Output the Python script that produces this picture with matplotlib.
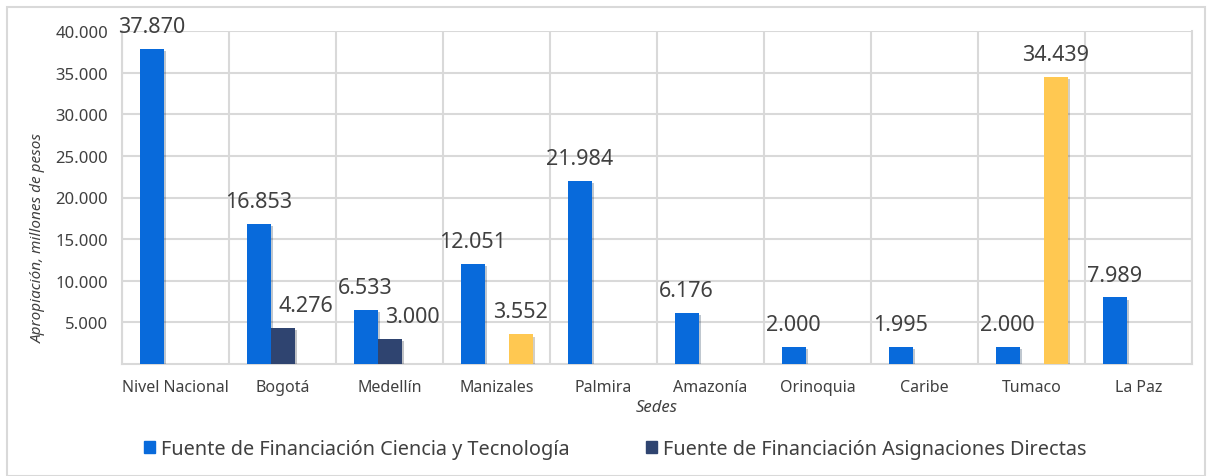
import matplotlib
matplotlib.use("Agg")
import matplotlib.pyplot as plt
import matplotlib.patheffects as pe
from matplotlib.patches import Rectangle
import numpy as np

sedes = ["Nivel Nacional", "Bogotá", "Medellín", "Manizales", "Palmira",
         "Amazonía", "Orinoquia", "Caribe", "Tumaco", "La Paz"]
ciencia_tecnologia = [37870, 16853, 6533, 12051, 21984, 6176, 2000, 1995, 2000, 7989]
asignaciones_directas = [0, 4276, 3000, 0, 0, 0, 0, 0, 0, 0]
otra_fuente = [0, 0, 0, 3552, 0, 0, 0, 0, 34439, 0]
yticks = [5000, 10000, 15000, 20000, 25000, 30000, 35000, 40000]

series = [
    ("Fuente de Financiación Ciencia y Tecnología", ciencia_tecnologia, "#086ADB", True, 0),
    ("Fuente de Financiación Asignaciones Directas", asignaciones_directas, "#2F4470", True, 16.6),
    ("Otra fuente", otra_fuente, "#FFC851", False, 0),
]

plt.rcParams['font.family'] = ['Noto Sans', 'DejaVu Sans']
txt = "#404040"
grid = "#d9d9d9"

W, H = 1209, 477
fig = plt.figure(figsize=(W / 100, H / 100), dpi=100)
ax = fig.add_axes([122 / W, 1 - 365 / H, (1192 - 122) / W, (365 - 32) / H])

x = np.arange(len(sedes))
bw = 24 / 107
shadow = [pe.SimplePatchShadow(offset=(1.5, -1.5), alpha=0.25), pe.Normal()]
handles = []
for i, (name, vals, col, inleg, dx) in enumerate(series):
    pos = x + (i - 1) * bw
    bars = ax.bar(pos, vals, width=bw, color=col, zorder=3)
    for b in bars:
        b.set_path_effects(shadow)
    for p, v in zip(pos, vals):
        if v > 0:
            ax.annotate(f"{v:,}".replace(",", "."), (p, v), xytext=(dx, 12.2),
                        textcoords="offset points", ha="center", va="baseline",
                        fontsize=15.5, color=txt, zorder=5)
    if inleg:
        handles.append(Rectangle((0, 0), 1, 1, color=col, label=name))

ax.set_xlim(-0.5, len(sedes) - 0.5)
ax.set_ylim(0, 40000)
ax.set_yticks(yticks)
ax.set_yticklabels([f"{t:,}".replace(",", ".") for t in yticks], fontsize=12, color=txt)
ax.set_xticks(x)
ax.set_xticklabels(sedes, fontsize=11.5, color=txt)
ax.set_xticks(np.arange(-0.5, len(sedes), 1), minor=True)
ax.tick_params(axis="both", which="both", length=0)
ax.tick_params(axis="x", pad=11)
ax.tick_params(axis="y", pad=10)
ax.grid(True, axis="y", which="major", color=grid, lw=1.5, zorder=0)
ax.grid(True, axis="x", which="minor", color=grid, lw=1.5, zorder=0)
ax.grid(False, axis="x", which="major")
for s in ax.spines.values():
    s.set_color(grid)
    s.set_linewidth(1.5)
ax.spines["top"].set_visible(False)

ax.set_xlabel("Sedes", fontsize=12, color=txt, style="italic", labelpad=3)
fig.text(38 / W, 1 - 238 / H, "Apropiación, millones de pesos", rotation=90,
         ha="center", va="center", fontsize=11, color=txt, style="italic")

fig.legend(handles=handles, loc="center left", bbox_to_anchor=(126 / W, 1 - 450 / H),
           ncol=2, frameon=False, fontsize=14.3, handlelength=0.55, handleheight=0.55,
           handletextpad=0.3, columnspacing=3.85, labelcolor=txt)

fig.patches.append(Rectangle((7 / W, 0), (1205 - 7) / W, 1 - 8 / H, transform=fig.transFigure,
                             fill=False, edgecolor=grid, lw=1.5))

fig.savefig("out.png", dpi=100, facecolor="white")
